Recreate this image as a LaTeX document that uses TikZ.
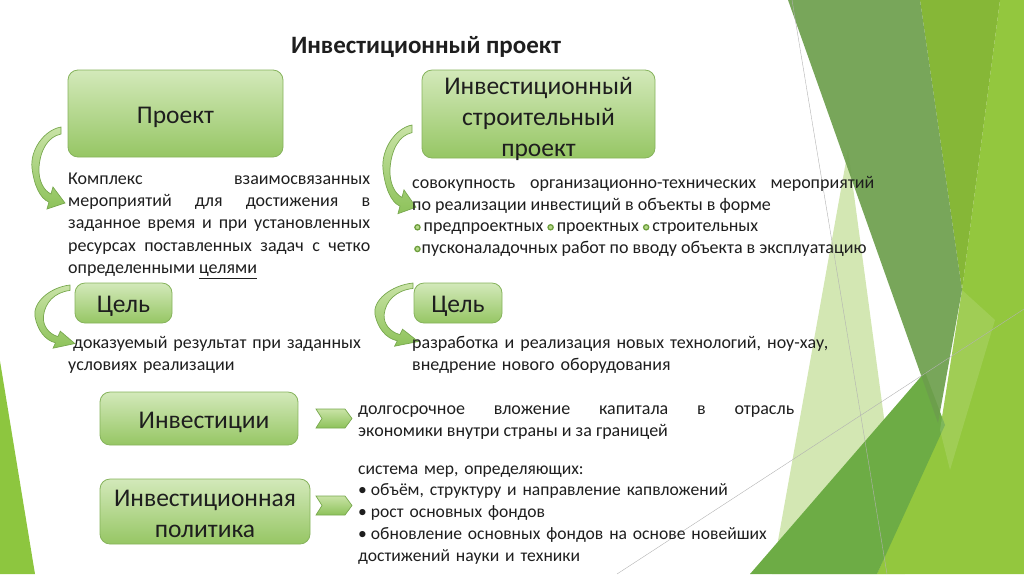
\documentclass[tikz,border=0pt]{standalone}
\usepackage{fontspec}
\setmainfont{Carlito}
\hyphenpenalty=10000
\exhyphenpenalty=10000
\definecolor{boxtop}{HTML}{D3E9BA}
\definecolor{boxbot}{HTML}{96C664}
\definecolor{boxline}{HTML}{86B35C}
\definecolor{arrtop}{HTML}{C9E3A6}
\definecolor{arrbot}{HTML}{8DC25A}
\definecolor{arrline}{HTML}{78A84E}
\definecolor{bdark}{HTML}{6E9E3E}
\definecolor{blight}{HTML}{B7DA8A}
\definecolor{gDark}{HTML}{6C9E4C}
\definecolor{gMid}{HTML}{86B737}
\definecolor{gBright}{HTML}{93C73E}
\definecolor{gLow}{HTML}{6DAC45}
\definecolor{gPale}{HTML}{D3E7B3}
\definecolor{gLeft}{HTML}{8DC63F}
\definecolor{txt}{HTML}{1E1E1E}
\newcommand\bodyA{\fontsize{18}{22.3}\selectfont}
\newcommand\bodyB{\fontsize{18}{21.7}\selectfont}
\newcommand\bodyC{\fontsize{17.6}{21.7}\selectfont}
\newcommand\gb{\tikz[x=1pt,y=1pt,baseline=-4.5pt]\draw[draw=bdark,fill=blight,line width=1.3pt] (0,0) circle (2.6pt);}
\newcommand\carrow[4]{%
  \begin{scope}[shift={(#1,#2)},x=#3pt,y=-#4pt]
  \draw[arrow body] (0,0) .. controls (-0.586,0.041) and (-1.069,0.311) .. (-1,0.554)
    .. controls (-0.931,0.784) and (-0.72,0.97) .. (-0.414,1.014) -- (-0.483,1.108)
    -- (0.138,1.027) -- (-0.276,0.811) -- (-0.345,0.905)
    .. controls (-0.6,0.86) and (-0.78,0.72) .. (-0.76,0.554)
    .. controls (-0.72,0.311) and (-0.45,0.13) .. (0,0.095) -- cycle;
  \end{scope}}
\tikzset{
  greenbox/.style={draw=boxline, line width=0.8pt, rounded corners=10pt,
    top color=boxtop, bottom color=boxbot, inner sep=0pt},
  boxlab/.style={inner sep=0pt, align=center, text=txt, font=\fontsize{25.5}{31}\selectfont},
  arrow body/.style={draw=arrline, line width=0.7pt, top color=arrtop, bottom color=arrbot},
  chev/.style={draw=arrline, line width=0.7pt, top color=arrtop, bottom color=arrbot},
  bodytxt/.style={anchor=north west, inner sep=0pt, text=txt, font=\bodyA},
  thinline/.style={draw=gray!60, line width=0.4pt}
}
\begin{document}
\begin{tikzpicture}[x=1pt,y=-1pt]
\useasboundingbox (0,0) rectangle (1024,574);
% background shapes
\fill[gLeft] (0,361) -- (35,574) -- (0,574) -- cycle;
\fill[gPale] (848,150) -- (905,574) -- (772,574) -- cycle;
\fill[gBright] (1000,0) -- (1024,0) -- (1024,574) -- (877,574) -- (940,430) -- (962,290) -- cycle;
\fill[gMid] (920,0) -- (1000,0) -- (962,290) -- cycle;
\fill[gLow] (750,574) -- (925,372) -- (945,425) -- (877,574) -- cycle;
\fill[gDark, opacity=0.92] (788,0) -- (920,0) -- (962,290) -- (938,423) -- cycle;
\fill[white, opacity=0.12] (962,290) -- (995,320) -- (950,470) -- (940,430) -- cycle;
\draw[thinline] (792,0) -- (887,574);
\draw[thinline] (617,574) -- (1024,309);
% title
\node[font=\fontsize{25}{30}\selectfont\bfseries, text=txt] (title) at (426,47) {Инвестиционный проект};
% boxes
\node[greenbox, minimum width=215pt, minimum height=87pt,
  label={[boxlab, yshift=-4pt]center:Проект}] (proj) at (175.5,113.5) {};
\node[greenbox, minimum width=233pt, minimum height=88pt,
  label={[boxlab, yshift=-5pt]center:Инвестиционный\\строительный\\проект}] (isp) at (538.5,114) {};
\node[greenbox, minimum width=97pt, minimum height=40pt,
  label={[boxlab, yshift=-3pt]center:Цель}] (celL) at (123.5,303) {};
\node[greenbox, minimum width=88pt, minimum height=40pt,
  label={[boxlab, yshift=-3pt]center:Цель}] (celR) at (458,303) {};
\node[greenbox, minimum width=198pt, minimum height=53pt,
  label={[boxlab, yshift=-3.5pt, xshift=5pt]center:Инвестиции}] (inv) at (199,418.5) {};
\node[greenbox, minimum width=210pt, minimum height=65pt,
  label={[boxlab, yshift=-2pt]center:Инвестиционная\\политика}] (pol) at (205,511.5) {};
% curved arrows
\carrow{61}{127}{29}{74}
\carrow{412}{125}{29}{80}
\carrow{70}{285}{35}{57}
\carrow{413}{283}{38}{57}
% chevrons
\draw[chev] (316,409) -- (345,409) -- (352,418.5) -- (345,428) -- (316,428) -- (322,418.5) -- cycle;
\draw[chev] (316,496) -- (345,496) -- (352,505.5) -- (345,515) -- (316,515) -- (322,505.5) -- cycle;
% texts
\node[bodytxt, text width=302pt, align=justify] (tproj) at (68,168.4)
 {\strut Комплекс взаимосвязанных\linebreak мероприятий для достижения в\linebreak заданное время и при установленных\linebreak ресурсах поставленных задач с четко\linebreak определенными \underline{целями}};
\node[bodytxt, text width=462pt, align=justify, font=\bodyB] (tisp) at (412,173)
 {\strut совокупность организационно-технических мероприятий\linebreak по реализации инвестиций в объекты в форме\newline
 \hspace*{2pt}\gb\hspace{3pt}предпроектных \gb\hspace{3pt}проектных \gb\hspace{3pt}строительных\newline
 \hspace*{2pt}\gb\hspace{1pt}пусконаладочных работ по вводу объекта в эксплуатацию};
\node[bodytxt, text width=300pt, align=left] (tcelL) at (68,332.4)
 {\strut\hspace{5pt}доказуемый результат при заданных\\условиях реализации};
\node[bodytxt, text width=440pt, align=left] (tcelR) at (412,332.4)
 {\strut разработка и реализация новых технологий, ноу-хау,\\внедрение нового оборудования};
\node[bodytxt, text width=436pt, align=justify] (tinv) at (358,398.4)
 {\strut долгосрочное вложение капитала в отрасль\linebreak экономики внутри страны и за границей};
\node[bodytxt, text width=440pt, align=left, font=\bodyC] (tpol) at (358,458.8)
 {\strut система мер, определяющих:\\•\hspace{4pt}объём, структуру и направление капвложений\\•\hspace{4pt}рост основных фондов\\•\hspace{4pt}обновление основных фондов на основе новейших\\достижений науки и техники};
\end{tikzpicture}
\end{document}
